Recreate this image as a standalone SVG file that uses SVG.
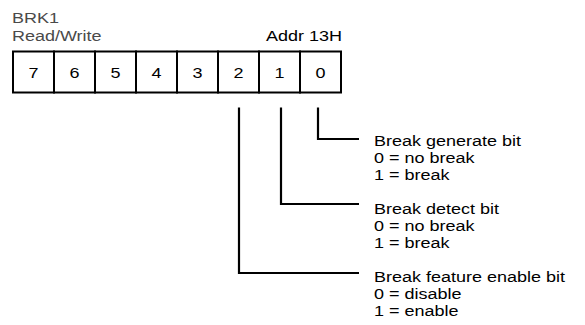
<svg xmlns="http://www.w3.org/2000/svg" width="585" height="325" viewBox="0 0 585 325">
<style>
text{font-family:"Liberation Sans",Arial,sans-serif;font-size:15px;fill:#000}
.hdr{fill:#4a4a4a}
.cell{fill:#fff;stroke:#000;stroke-width:2}
.wire{fill:none;stroke:#000;stroke-width:2.2}
.d{text-anchor:middle}
</style>
<rect width="585" height="325" fill="#fff"/>
<g id="header">
<text class="hdr" transform="translate(12,22.5) scale(1.2,1)">BRK1</text>
<text class="hdr" transform="translate(12,40.5) scale(1.2,1)">Read/Write</text>
<text transform="translate(342,40.5) scale(1.2,1)" text-anchor="end">Addr 13H</text>
</g>
<g id="register">
<g id="bit7"><rect class="cell" x="13" y="51.5" width="41" height="41"/><text class="d" transform="translate(33.5,77.5) scale(1.2,1)">7</text></g>
<g id="bit6"><rect class="cell" x="54" y="51.5" width="41" height="41"/><text class="d" transform="translate(74.5,77.5) scale(1.2,1)">6</text></g>
<g id="bit5"><rect class="cell" x="95" y="51.5" width="41" height="41"/><text class="d" transform="translate(115.5,77.5) scale(1.2,1)">5</text></g>
<g id="bit4"><rect class="cell" x="136" y="51.5" width="41" height="41"/><text class="d" transform="translate(156.5,77.5) scale(1.2,1)">4</text></g>
<g id="bit3"><rect class="cell" x="177" y="51.5" width="41" height="41"/><text class="d" transform="translate(197.5,77.5) scale(1.2,1)">3</text></g>
<g id="bit2"><rect class="cell" x="218" y="51.5" width="41" height="41"/><text class="d" transform="translate(238.5,77.5) scale(1.2,1)">2</text></g>
<g id="bit1"><rect class="cell" x="259" y="51.5" width="41" height="41"/><text class="d" transform="translate(279.5,77.5) scale(1.2,1)">1</text></g>
<g id="bit0"><rect class="cell" x="300" y="51.5" width="41" height="41"/><text class="d" transform="translate(320.5,77.5) scale(1.2,1)">0</text></g>
</g>
<g id="connectors">
<polyline class="wire" points="318,107.5 318,139 359,139"/>
<polyline class="wire" points="281,107.5 281,204 359,204"/>
<polyline class="wire" points="239,107.5 239,273 359,273"/>
</g>
<g id="label-bit0">
<text transform="translate(374,146) scale(1.2,1)">Break generate bit</text>
<text transform="translate(374,163) scale(1.2,1)">0 = no break</text>
<text transform="translate(374,180) scale(1.2,1)">1 = break</text>
</g>
<g id="label-bit1">
<text transform="translate(374,214) scale(1.2,1)">Break detect bit</text>
<text transform="translate(374,231) scale(1.2,1)">0 = no break</text>
<text transform="translate(374,248) scale(1.2,1)">1 = break</text>
</g>
<g id="label-bit2">
<text transform="translate(374,282) scale(1.2,1)">Break feature enable bit</text>
<text transform="translate(374,299) scale(1.2,1)">0 = disable</text>
<text transform="translate(374,316) scale(1.2,1)">1 = enable</text>
</g>
</svg>
